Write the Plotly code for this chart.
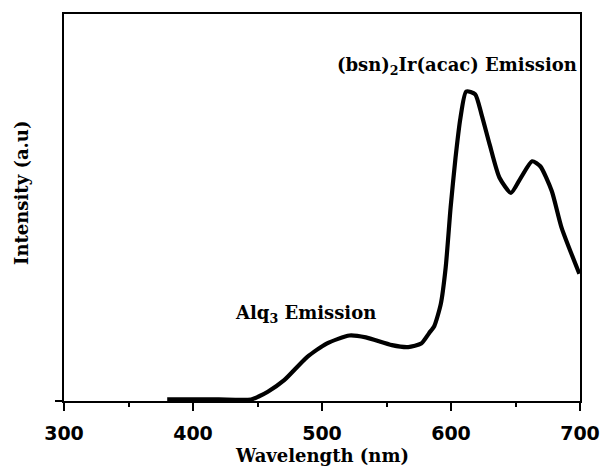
import plotly.graph_objects as go

# Data (wavelength in nm, intensity in arbitrary units)
wavelength = [380, 400, 420, 445, 450.5, 458, 470.7, 488.4, 503.6, 521.3, 534, 554.2,
              566.8, 576.9, 583, 587, 592.1, 595.9, 599.7, 603.5, 607.3, 611.8, 618.7,
              623.7, 630, 637.6, 646.5, 654.1, 662.9, 669.2, 678.1, 685.7, 699.5]
intensity = [0.0, 0.0, 0.0, 0.0, 0.007, 0.02, 0.050, 0.110, 0.145, 0.166, 0.161, 0.141,
             0.136, 0.145, 0.172, 0.19, 0.248, 0.343, 0.498, 0.627, 0.730, 0.799, 0.792,
             0.739, 0.661, 0.575, 0.536, 0.575, 0.618, 0.605, 0.541, 0.446, 0.326]

x_ticks = [300, 400, 500, 600, 700]
label_alq = "Alq<sub>3</sub> Emission"
label_ir = "(bsn)<sub>2</sub>Ir(acac) Emission"
label_alq_pos = (486.9, 0.221)
label_ir_pos = (604.8, 0.866)

serif = "DejaVu Serif"
sans = "DejaVu Sans"

fig = go.Figure()
fig.add_trace(go.Scatter(
    x=wavelength, y=intensity, mode="lines",
    line=dict(color="black", width=4.2, shape="spline", smoothing=0.6),
    showlegend=False, hoverinfo="skip"))

fig.update_layout(
    width=612, height=468, autosize=False,
    margin=dict(l=64, r=20, t=12, b=67),
    paper_bgcolor="white", plot_bgcolor="white",
    xaxis=dict(range=[300, 700], tickvals=x_ticks, ticktext=[str(v) for v in x_ticks],
               showline=True, linecolor="black", linewidth=1.5, mirror=True,
               ticks="outside", ticklen=8, tickwidth=1.5, tickcolor="black",
               minor=dict(dtick=50, ticks="outside", ticklen=4, tickwidth=1.5, tickcolor="black"),
               showgrid=False, zeroline=False,
               tickfont=dict(family=sans, size=19, color="black", weight="bold"),
               ticklabelstandoff=6),
    yaxis=dict(range=[-0.004, 1.0], tickvals=[-0.004], showticklabels=False,
               ticks="outside", ticklen=7, tickwidth=1.5, tickcolor="black",
               showline=True, linecolor="black", linewidth=1.5, mirror=True,
               showgrid=False, zeroline=False),
)

fig.add_annotation(x=label_alq_pos[0], y=label_alq_pos[1], text=label_alq, showarrow=False,
                   font=dict(family=serif, size=18, color="black", weight="bold"),
                   xanchor="center", yanchor="middle")
fig.add_annotation(x=label_ir_pos[0], y=label_ir_pos[1], text=label_ir, showarrow=False,
                   font=dict(family=serif, size=18, color="black", weight="bold"),
                   xanchor="center", yanchor="middle")
# axis titles
fig.add_annotation(x=0.5, y=-0.1414, xref="paper", yref="paper", text="Wavelength (nm)",
                   showarrow=False, xanchor="center", yanchor="middle",
                   font=dict(family=serif, size=18, color="black", weight="bold"))
fig.add_annotation(x=-0.0825, y=0.5386, xref="paper", yref="paper", text="Intensity (a.u)",
                   showarrow=False, xanchor="center", yanchor="middle", textangle=-90,
                   font=dict(family=serif, size=18, color="black", weight="bold"))

fig.write_html("out.html", config={"responsive": False},
               default_width="612px", default_height="468px")
